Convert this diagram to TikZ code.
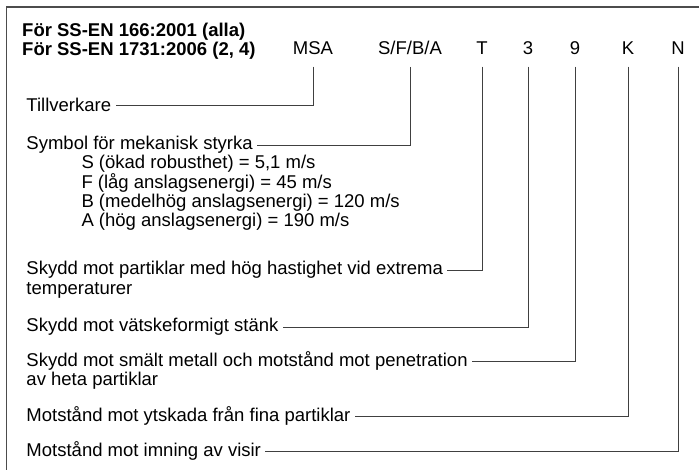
\documentclass[tikz,border=0pt]{standalone}
\usepackage{fontspec}
\setmainfont{Liberation Sans}
\begin{document}
\begin{tikzpicture}[x=1pt,y=-1pt,
  lbl/.style={anchor=west,inner sep=0pt,outer sep=4.5pt,font=\fontsize{18.5}{22}\selectfont},
  top/.style={inner sep=0pt,font=\fontsize{18.5}{22}\selectfont},
  ttl/.style={anchor=base west,inner sep=0pt,font=\fontsize{18.5}{22}\selectfont\bfseries},
  conn/.style={draw=black!75,line width=0.9pt},
  frame/.style={draw=black!70,line width=1.5pt}]
\useasboundingbox (0,0) rectangle (699,470);
\draw[frame] (6.5,470) -- (6.5,7) -- (699,7);
% title
\node[ttl] (t1) at (22,36.5) {För SS-EN 166:2001 (alla)};
\node[ttl] (t2) at (22,55.5) {För SS-EN 1731:2006 (2, 4)};
% top codes
\node[top] (msa) at (313,48) {MSA};
\node[top] (sfba) at (410,48) {S/F/B/A};
\node[top] (cT) at (482,48) {T};
\node[top] (c3) at (528,48) {3};
\node[top] (c9) at (575,48) {9};
\node[top] (cK) at (628,48) {K};
\node[top] (cN) at (678,48) {N};
% left labels
\node[lbl] (l1) at (22,105) {Tillverkare};
\node[lbl] (l2) at (22,145) {Symbol för mekanisk styrka};
\node[lbl] (s1) at (77,164) {S (ökad robusthet) = 5,1 m/s};
\node[lbl] (s2) at (77,183) {F (låg anslagsenergi) = 45 m/s};
\node[lbl] (s3) at (77,203) {B (medelhög anslagsenergi) = 120 m/s};
\node[lbl] (s4) at (77,222) {A (hög anslagsenergi) = 190 m/s};
\node[lbl] (l3) at (22,270) {Skydd mot partiklar med hög hastighet vid extrema};
\node[lbl] (l3b) at (22,290) {temperaturer};
\node[lbl] (l4) at (22,327) {Skydd mot vätskeformigt stänk};
\node[lbl] (l5) at (22,361) {Skydd mot smält metall och motstånd mot penetration};
\node[lbl] (l5b) at (22,381) {av heta partiklar};
\node[lbl] (l6) at (22,416) {Motstånd mot ytskada från fina partiklar};
\node[lbl] (l7) at (22,451) {Motstånd mot imning av visir};
% connectors
\draw[conn] ([yshift=-12pt]msa.south) -- (l1.east -| msa) -- (l1.east);
\draw[conn] ([yshift=-12pt]sfba.south) -- (l2.east -| sfba) -- (l2.east);
\draw[conn] ([yshift=-12pt]cT.south) -- (l3.east -| cT) -- (l3.east);
\draw[conn] ([yshift=-12pt]c3.south) -- (l4.east -| c3) -- (l4.east);
\draw[conn] ([yshift=-12pt]c9.south) -- (l5.east -| c9) -- (l5.east);
\draw[conn] ([yshift=-12pt]cK.south) -- (l6.east -| cK) -- (l6.east);
\draw[conn] ([yshift=-12pt]cN.south) -- (l7.east -| cN) -- (l7.east);
\end{tikzpicture}
\end{document}
